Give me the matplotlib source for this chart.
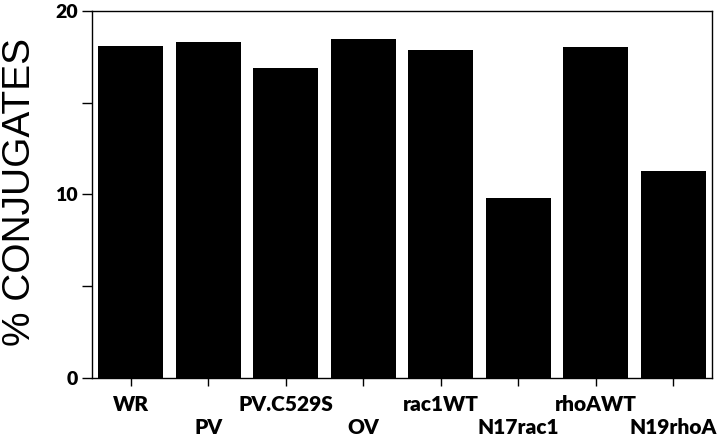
import matplotlib.pyplot as plt
from matplotlib.transforms import ScaledTranslation

# Data
categories = ['WR', 'PV', 'PV.C529S', 'OV', 'rac1WT', 'N17rac1', 'rhoAWT', 'N19rhoA']
conjugates = [18.1, 18.3, 16.9, 18.45, 17.85, 9.8, 18.0, 11.3]

fig = plt.figure(figsize=(7.2, 4.4), dpi=100)
ax = fig.add_axes([0.128, 0.14, 0.861, 0.836])

x = range(len(categories))
ax.bar(x, conjugates, width=0.84, color='black')

ax.set_xlim(-0.5, len(categories) - 0.5)
ax.set_ylim(0, 20)
ax.set_yticks([0, 10, 20])
ax.set_yticks([5, 15], minor=True)
ax.tick_params(axis='y', which='both', direction='out', length=7, width=1, pad=3.5)
ax.tick_params(axis='x', direction='out', length=6, width=1, pad=6)

ax.set_xticks(list(x))
ax.set_xticklabels(categories, fontfamily='Lato', fontweight='heavy', fontsize=15)
for lab in ax.get_yticklabels():
    lab.set_fontfamily('Lato')
    lab.set_fontweight('heavy')
    lab.set_fontsize(14)

# stagger every other label onto a second row
shift = ScaledTranslation(0, -23 / 100, fig.dpi_scale_trans)
for i, lab in enumerate(ax.get_xticklabels()):
    if i % 2 == 1:
        lab.set_transform(lab.get_transform() + shift)

for s in ax.spines.values():
    s.set_linewidth(1)

fig.text(0.028, 0.5625, '% CONJUGATES', rotation=90, ha='center', va='center',
         fontfamily='Liberation Sans', fontsize=28)

fig.savefig('out.png', dpi=100)
